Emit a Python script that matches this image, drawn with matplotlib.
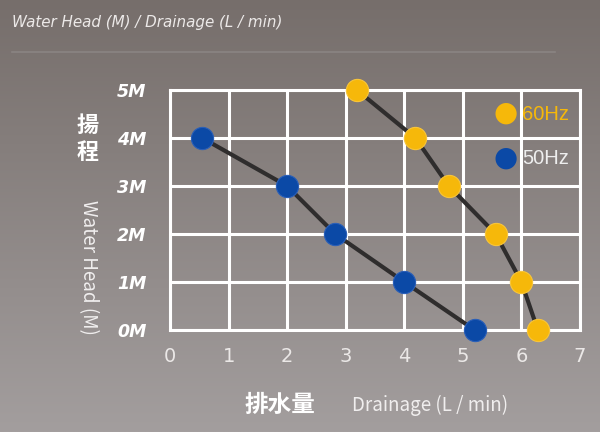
import numpy as np
import matplotlib
matplotlib.use("Agg")
import matplotlib.pyplot as plt

# Data
head_ticks = [0, 1, 2, 3, 4, 5]
head_labels = ["0M", "1M", "2M", "3M", "4M", "5M"]
flow_ticks = [0, 1, 2, 3, 4, 5, 6, 7]

hz50_flow = [0.55, 2.0, 2.82, 4.0, 5.2]
hz50_head = [4, 3, 2, 1, 0]
hz60_flow = [3.19, 4.19, 4.76, 5.56, 6.0, 6.28]
hz60_head = [5, 4, 3, 2, 1, 0]

BLUE = "#0b49a6"
YELLOW = "#f6b80a"
LINE = "#2f2d2d"

fig = plt.figure(figsize=(6, 4.32), dpi=100)

# background gradient
bg = fig.add_axes([0, 0, 1, 1])
top = np.array([0x76, 0x6e, 0x6b]) / 255
bot = np.array([0xa3, 0x9e, 0x9e]) / 255
t = np.linspace(0, 1, 256)[:, None]
grad = top[None, :] * (1 - t) + bot[None, :] * t
img = np.repeat(grad[:, None, :], 4, axis=1)
bg.imshow(img, aspect="auto", extent=[0, 1, 0, 1], origin="upper")
bg.set_xlim(0, 1); bg.set_ylim(0, 1)
bg.axis("off")

# title and separator
fig.text(12/600, 1 - 22/432, "Water Head (M) / Drainage (L / min)", fontsize=10.9,
         style="italic", color="#ece9e8", ha="left", va="center", family="DejaVu Sans")
bg.plot([12/600, 555/600], [1 - 52/432, 1 - 52/432], color="#8a8482", lw=1.2)

ax = fig.add_axes([170/600, 1 - 330/432, 410/600, 240/432])
ax.set_facecolor("none")
ax.set_xlim(0, 7)
ax.set_ylim(0, 5)
ax.set_xticks(flow_ticks)
ax.set_yticks(head_ticks)
ax.set_yticklabels(head_labels)
ax.grid(True, color="white", lw=2.2)
ax.set_axisbelow(True)
for s in ax.spines.values():
    s.set_color("white"); s.set_linewidth(2.2)
ax.tick_params(length=0)
ax.tick_params(axis="y", pad=17)
ax.tick_params(axis="x", pad=12)
for lab in ax.get_yticklabels():
    lab.set_fontweight("bold"); lab.set_fontstyle("italic"); lab.set_color("white")
    lab.set_fontsize(12.5)
for lab in ax.get_xticklabels():
    lab.set_color("#ebe8e7"); lab.set_fontsize(14)

ax.plot(hz50_flow, hz50_head, color=LINE, lw=3, zorder=3, clip_on=False)
ax.plot(hz60_flow, hz60_head, color=LINE, lw=3, zorder=3, clip_on=False)
ax.plot(hz50_flow, hz50_head, "o", color=BLUE, ms=16, mec="#2a5fb8", mew=0.8, zorder=4, clip_on=False)
ax.plot(hz60_flow, hz60_head, "o", color=YELLOW, ms=16, mec="#f8c53a", mew=0.8, zorder=4, clip_on=False)

# legend
fig.text(506/600, 1 - 113/432, "●", color=YELLOW, fontsize=20, ha="center", va="center", family="DejaVu Sans")
fig.text(506/600, 1 - 158/432, "●", color=BLUE, fontsize=20, ha="center", va="center", family="DejaVu Sans")
fig.text(522/600, 1 - 114/432, "60Hz", color=YELLOW, fontsize=14.5, ha="left", va="center", family="Liberation Sans")
fig.text(522/600, 1 - 159/432, "50Hz", color="#eeeeee", fontsize=14.5, ha="left", va="center", family="Liberation Sans")

# axis labels
fig.text(88/600, 1 - 139/432, "揚\n程", color="white", fontsize=16, fontweight="bold",
         ha="center", va="center", linespacing=1.2, family=["Noto Sans CJK TC", "DejaVu Sans"])
fig.text(88/600, 1 - 267/432, "Water Head (M)", color="#f0eeee", fontsize=13.5, rotation=-90,
         ha="center", va="center", family=["Noto Sans CJK TC", "DejaVu Sans"])
fig.text(280/600, 1 - 405/432, "排水量", color="white", fontsize=17, fontweight="bold",
         ha="center", va="center", family=["Noto Sans CJK TC", "DejaVu Sans"])
fig.text(430/600, 1 - 405/432, "Drainage (L / min)", color="#f0eeee", fontsize=13.5,
         ha="center", va="center", family=["Noto Sans CJK TC", "DejaVu Sans"])

fig.savefig("out.png", dpi=100)
